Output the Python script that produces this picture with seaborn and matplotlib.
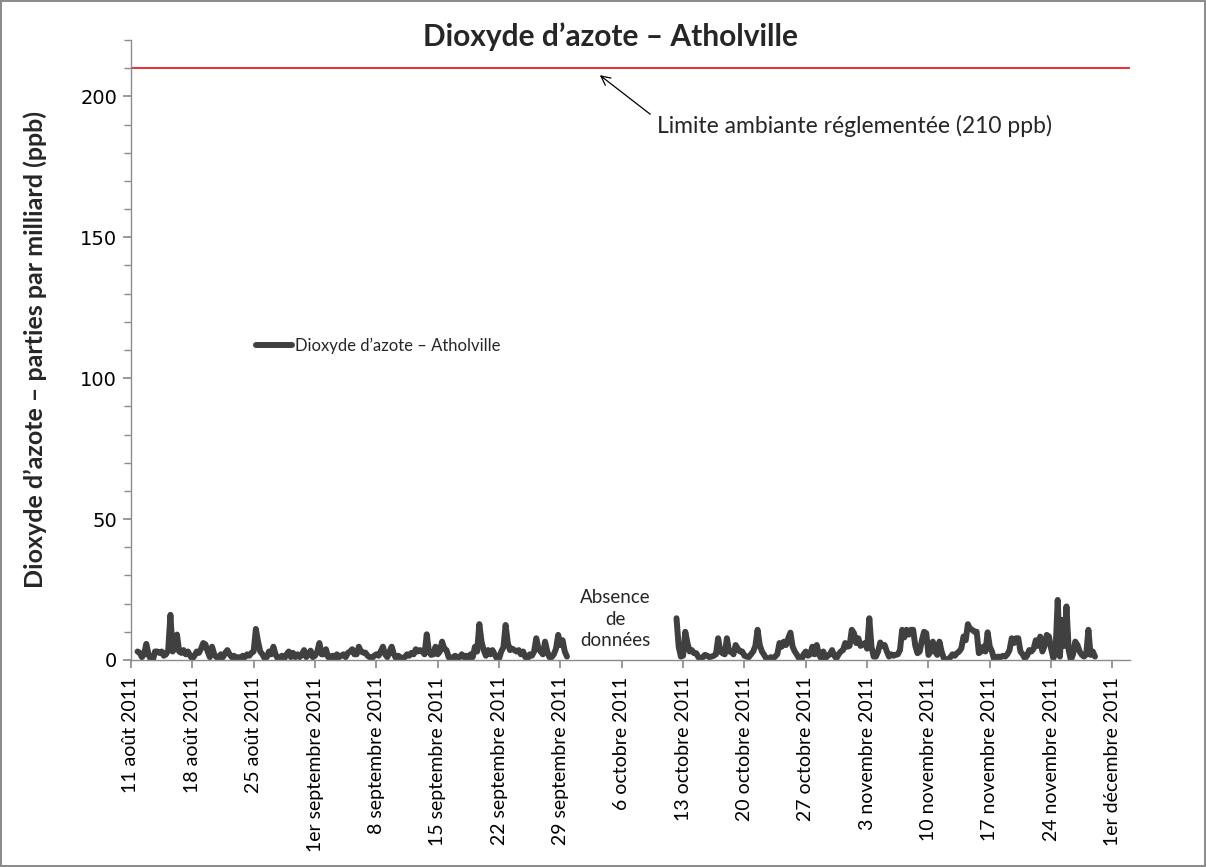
import pandas as pd
import matplotlib
matplotlib.use("Agg")
import matplotlib.pyplot as plt
import seaborn as sns

# ---------------- data ----------------
title = "Dioxyde d’azote – Atholville"
series_name = "Dioxyde d’azote – Atholville"
y_label = "Dioxyde d’azote – parties par milliard (ppb)"
limit_value = 210
limit_label = "Limite ambiante réglementée (210 ppb)"
gap_label = "Absence\nde\ndonnées"

seg1_start = "2011-08-11 18:00"
seg1_values = [3,
    2.5, 1, 2, 5.7, 2, 0.3, 0, 3, 3, 2.5, 3, 1.5, 2, 3.5, 16, 3,
    4, 9, 3, 2.5, 3.5, 2, 3, 1.5, 0.5, 1.5, 3, 2.5, 4, 6, 5.5, 3,
    1, 4.7, 2, 1, 0.5, 2, 1, 2.5, 3.5, 2, 1, 1.5, 0.5, 1, 0.5, 1.5,
    1, 2, 1.5, 2.5, 3, 11, 6.5, 3, 2, 0.6, 1, 3, 2, 4.7, 2, 0.5,
    1, 1.5, 0.5, 2, 3, 1, 2.5, 1, 2, 1, 2, 3.5, 1, 2, 3.3, 1,
    1.5, 3, 6, 2, 2, 3.8, 1, 1, 1.5, 0.5, 2, 1, 1.5, 2, 1, 2.5,
    3, 3.8, 2, 2, 4.7, 3, 2.6, 2.6, 1.5, 1, 0.6, 1.5, 2, 1.5, 3, 4.7,
    2, 1, 3, 4.7, 2, 0.6, 1.5, 1, 0.5, 1, 2, 1.5, 2.5, 2, 3.8, 3,
    3.5, 3, 2, 9.1, 3, 1.8, 2, 4.7, 2, 3, 6.5, 4, 3.5, 1, 0.2, 1,
    1.5, 0.5, 1, 2, 1, 1.5, 0.5, 2, 1, 4.7, 3, 12.7, 6.5, 3.5, 1.5, 3.5,
    2, 3.5, 2, 0.5, 0.5, 3, 4.5, 12.4, 6, 3.5, 4, 3.5, 3, 3.5, 2, 3,
    1, 0.5, 2, 1.5, 3, 7.7, 4, 3, 2, 6.5, 3, 1, 1, 2, 4, 8.9,
    5.3, 7, 3, 1.2]

seg2_start = "2011-10-12 06:00"
seg2_values = [14.8, 4.7, 1.2,
    1.5, 10, 6, 3, 3.5, 2.4, 2.4, 1, 0, 1, 1.8, 1.5, 1, 1.2, 1.5, 2,
    7.7, 3, 2.4, 2, 7.7, 3, 3, 2, 5.3, 4, 3, 3, 1.5, 1.2, 1, 2,
    3, 5, 10.7, 5.3, 3, 1.8, 0.5, 0, 1, 0.5, 1.2, 2, 6, 4.7, 6.5, 5.3,
    7.7, 9.7, 4.7, 3, 1.8, 0.5, 0, 2, 3, 1.5, 2, 4.7, 2, 5.3, 2, 0.6,
    3, 0.6, 1.5, 2, 3.5, 1.5, 0.6, 2, 3, 3.5, 6, 4.7, 5, 10.7, 9.5, 6,
    7.7, 5, 5.5, 6, 4, 14.8, 4.7, 1.2, 1.2, 3, 6.2, 5, 5.3, 3, 1.2, 2,
    1.5, 1.8, 2, 3.5, 10.7, 8, 10.7, 9, 10.7, 10.7, 5, 2.4, 3, 7, 10, 9.5,
    1.8, 3, 6.5, 3, 1.8, 6.5, 3, 0.6, 0.3, 0, 1, 2, 1.5, 2.4, 3, 4.1,
    8.3, 7, 12.7, 11, 10.7, 10, 10, 2.4, 3, 4.7, 3, 9.8, 4.7, 3, 0, 1,
    1.2, 1, 1.5, 1.2, 2, 3.5, 7.7, 6, 7.7, 7.7, 3, 2, 0.6, 1.5, 3.5, 3,
    4, 7, 5, 8.3, 3, 5, 8.9, 8.3, 4, 0.6, 3, 21.3, 1.2, 14.2, 5, 19,
    3.5, 0, 2, 6.5, 5.3, 3, 1.8, 1.2, 2, 10.7, 1.8, 3, 1.2]

tick_dates = ["2011-08-11", "2011-08-18", "2011-08-25", "2011-09-01",
              "2011-09-08", "2011-09-15", "2011-09-22", "2011-09-29",
              "2011-10-06", "2011-10-13", "2011-10-20", "2011-10-27",
              "2011-11-03", "2011-11-10", "2011-11-17", "2011-11-24",
              "2011-12-01"]
tick_labels = ["11 août 2011", "18 août 2011", "25 août 2011",
               "1er septembre 2011", "8 septembre 2011", "15 septembre 2011",
               "22 septembre 2011", "29 septembre 2011", "6 octobre 2011",
               "13 octobre 2011", "20 octobre 2011", "27 octobre 2011",
               "3 novembre 2011", "10 novembre 2011", "17 novembre 2011",
               "24 novembre 2011", "1er décembre 2011"]
x_min, x_max = "2011-08-11", "2011-12-03"
y_min, y_max = 0, 220
y_ticks = [0, 50, 100, 150, 200]

# ---------------- build frames ----------------
df1 = pd.DataFrame({"date": pd.date_range(seg1_start, periods=len(seg1_values), freq="6h"),
                    "value": seg1_values})
df2 = pd.DataFrame({"date": pd.date_range(seg2_start, periods=len(seg2_values), freq="6h"),
                    "value": seg2_values})

sns.set_theme(style="white")
plt.rcParams["font.family"] = ["Lato", "DejaVu Sans"]

fig = plt.figure(figsize=(12.06, 8.67), dpi=100, facecolor="white",
                 edgecolor="#8c8c8c", linewidth=1.5)
ax = fig.add_axes([0.1086, 0.2388, 0.8284, 0.7151])

line_color = "#404040"
sns.lineplot(data=df1, x="date", y="value", ax=ax, color=line_color,
             linewidth=4.3, label=series_name)
sns.lineplot(data=df2, x="date", y="value", ax=ax, color=line_color,
             linewidth=4.3, legend=False)

ax.axhline(limit_value, color="#e8302a", linewidth=1.4, zorder=1)

ax.set_xlim(pd.Timestamp(x_min), pd.Timestamp(x_max))
ax.set_ylim(y_min, y_max)
ax.set_yticks(y_ticks)
ax.set_yticks(range(y_min, y_max + 1, 10), minor=True)
ax.set_yticklabels([str(v) for v in y_ticks], fontsize=14,
                   family=["DejaVu Sans"])
ax.set_xticks([pd.Timestamp(d) for d in tick_dates])
ax.set_xticklabels(tick_labels, rotation=90, fontsize=14,
                   family=["Liberation Sans Narrow", "Lato", "DejaVu Sans"])

for s in ["top", "right"]:
    ax.spines[s].set_visible(False)
for s in ["left", "bottom"]:
    ax.spines[s].set_color("#8c8c8c")
    ax.spines[s].set_linewidth(1.0)
ax.tick_params(axis="both", which="both", direction="out", color="#8c8c8c",
               left=True, bottom=True, labelcolor="black")
ax.tick_params(axis="y", which="major", length=6, pad=4)
ax.tick_params(axis="y", which="minor", length=5)
ax.tick_params(axis="x", which="major", length=6, pad=6)

ax.set_xlabel("")
ax.set_ylabel(y_label, fontsize=18, fontweight="bold", labelpad=24)
fig.text(0.506, 0.958, title, ha="center", va="center",
         fontsize=21.5, fontweight="bold")

leg = ax.legend(loc="center left", bbox_to_anchor=(0.118, 0.507),
                frameon=False, fontsize=12, handlelength=2.2,
                handletextpad=0.15, borderaxespad=0)

ax.annotate(limit_label,
            xy=(pd.Timestamp("2011-10-03 12:00"), 207.5),
            xytext=(pd.Timestamp("2011-10-10 00:00"), 189.5),
            ha="left", va="center", fontsize=16.5,
            arrowprops=dict(arrowstyle="->", color="black", lw=0.9,
                            shrinkA=3, shrinkB=0, relpos=(0, 0.8)))

ax.text(pd.Timestamp("2011-10-05 06:00"), 14.5, gap_label, ha="center",
        va="center", fontsize=13.5, linespacing=1.35)

fig.savefig("out.png", dpi=100, facecolor="white", edgecolor="#8c8c8c")
